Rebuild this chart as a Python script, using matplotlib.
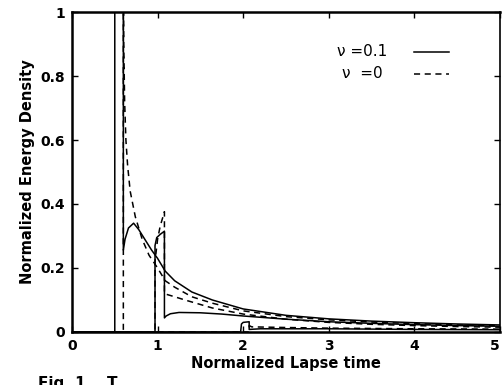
import numpy as np
import matplotlib.pyplot as plt

# nu = 0.1 (solid) curves
s1_x = [0.0, 0.5, 0.5, 0.6, 0.6, 0.62, 0.66, 0.72, 0.78, 0.85, 0.93, 1.0, 1.09, 1.2, 1.4, 1.64, 2.0, 2.5, 3.0, 3.5, 4.0, 4.5, 5.0]
s1_y = [0.0, 0.0, 1.2, 1.2, 0.256, 0.29, 0.325, 0.34, 0.32, 0.29, 0.256, 0.23, 0.19, 0.16, 0.125, 0.1, 0.072, 0.052, 0.041, 0.034, 0.029, 0.025, 0.022]
s2_x = [0.0, 0.97, 0.97, 0.99, 1.03, 1.08, 1.08, 1.1, 1.15, 1.25, 1.5, 1.75, 2.0, 2.5, 3.0, 3.5, 4.0, 4.5, 5.0]
s2_y = [0.0, 0.0, 0.27, 0.295, 0.305, 0.315, 0.044, 0.05, 0.057, 0.061, 0.06, 0.056, 0.05, 0.04, 0.032, 0.027, 0.023, 0.02, 0.018]
s3_x = [0.0, 1.97, 1.98, 2.0, 2.07, 2.07, 2.2, 3.0, 4.0, 5.0]
s3_y = [0.0, 0.0, 0.025, 0.03, 0.032, 0.008, 0.01, 0.01, 0.008, 0.007]

# nu = 0 (dashed) curves
d1_x = [0.0, 0.6, 0.6, 0.605, 0.615, 0.63, 0.65, 0.68, 0.74, 0.82, 0.9, 1.0, 1.09, 1.2, 1.4, 1.64, 2.0, 2.5, 3.0, 3.5, 4.0, 4.5, 5.0]
d1_y = [0.0, 0.0, 1.2, 0.9, 0.72, 0.6, 0.52, 0.44, 0.36, 0.29, 0.24, 0.2, 0.16, 0.14, 0.11, 0.09, 0.066, 0.048, 0.038, 0.031, 0.026, 0.022, 0.019]
d2_x = [0.0, 0.97, 0.97, 1.0, 1.03, 1.08, 1.08, 1.1, 1.2, 1.32, 1.64, 2.0, 2.5, 3.0, 3.5, 4.0, 4.5, 5.0]
d2_y = [0.0, 0.0, 0.22, 0.29, 0.33, 0.376, 0.12, 0.118, 0.11, 0.1, 0.075, 0.056, 0.04, 0.03, 0.024, 0.02, 0.017, 0.015]
d3_x = [0.0, 2.07, 2.07, 2.1, 2.5, 3.0, 4.0, 5.0]
d3_y = [0.0, 0.0, 0.02, 0.016, 0.014, 0.012, 0.01, 0.009]

xticks = [0, 1, 2, 3, 4, 5]
yticks = [0, 0.2, 0.4, 0.6, 0.8, 1]
ytick_labels = ['0', '0.2', '0.4', '0.6', '0.8', '1']

fig = plt.figure(figsize=(5.03, 3.85), dpi=100)
ax = fig.add_axes([0.1431, 0.1377, 0.8509, 0.8311])

lw = 1.1
for x, y in [(s1_x, s1_y), (s2_x, s2_y), (s3_x, s3_y)]:
    ax.plot(x, y, color='black', lw=lw)
for x, y in [(d1_x, d1_y), (d2_x, d2_y), (d3_x, d3_y)]:
    ax.plot(x, y, color='black', lw=lw, ls=(0, (4, 3)))

ax.set_xlim(0, 5)
ax.set_ylim(0, 1)
ax.set_xticks(xticks)
ax.set_yticks(yticks)
ax.set_xticklabels([str(t) for t in xticks], fontweight='bold', fontsize=10)
ax.set_yticklabels(ytick_labels, fontweight='bold', fontsize=10)
ax.get_xticklabels()[-1].set_horizontalalignment('right')   # keep the "5" inside the picture
ax.tick_params(direction='in', top=True, right=True, length=4, width=1, pad=5)

for side in ['left', 'bottom', 'top']:
    ax.spines[side].set_linewidth(1.8)
ax.spines['right'].set_linewidth(1.2)

ax.set_xlabel('Normalized Lapse time', fontweight='bold', fontsize=10.5, labelpad=2)
ax.set_ylabel('Normalized Energy Density', fontweight='bold', fontsize=10.5, labelpad=4)

# legend drawn by hand like the original (no frame)
ax.text(3.1, 0.878, '\u03bd =0.1', fontsize=11, va='center', ha='left')
ax.text(3.15, 0.808, '\u03bd  =0', fontsize=11, va='center', ha='left')
ax.plot([4.0, 4.4], [0.876, 0.876], color='black', lw=lw)
ax.plot([4.0, 4.4], [0.806, 0.806], color='black', lw=lw, ls=(0, (4, 3)))

# caption of the scanned figure, cut by the bottom edge as in the original
fig.text(0.075, 0.024, 'Fig. 1.   T', fontsize=11, fontweight='bold', va='top', ha='left')

fig.savefig('out.png', dpi=100)
